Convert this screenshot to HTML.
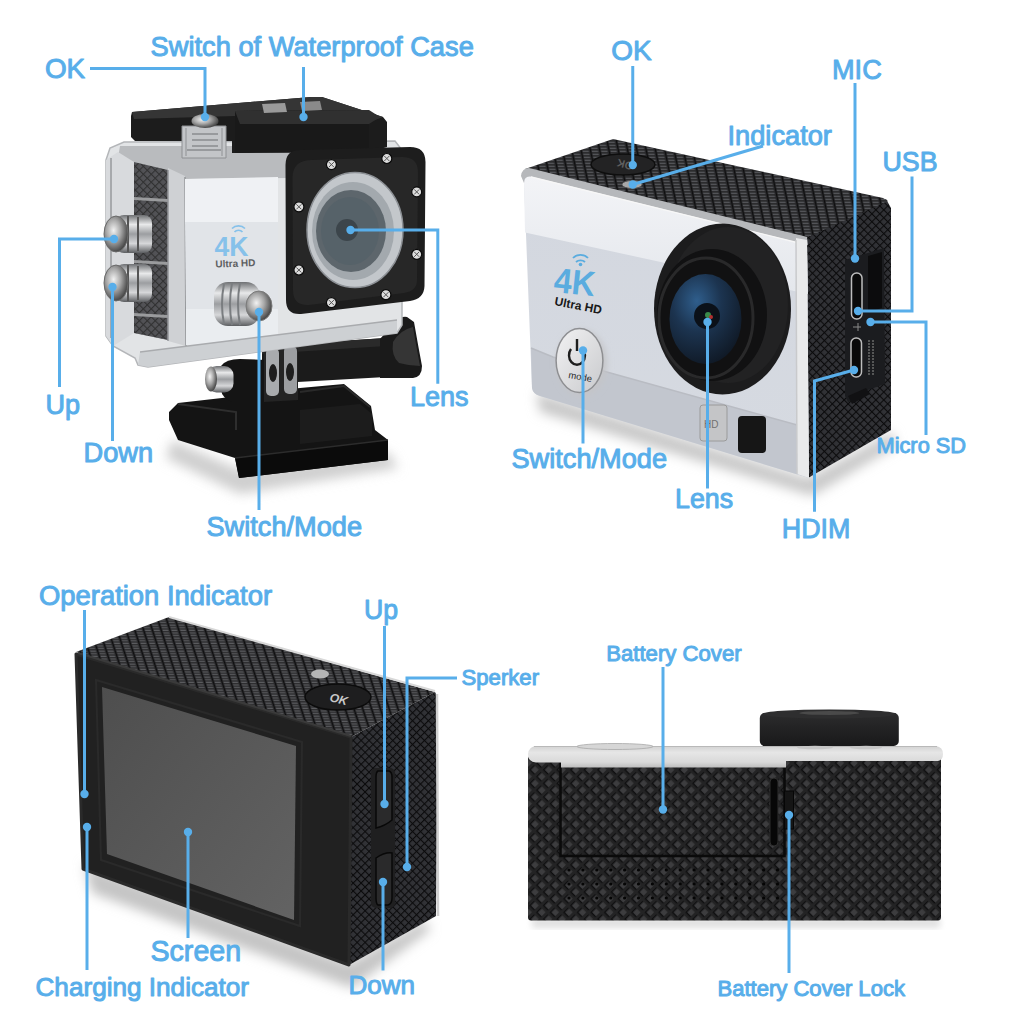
<!DOCTYPE html>
<html><head><meta charset="utf-8"><style>
html,body{margin:0;padding:0;background:#fff;width:1024px;height:1024px;overflow:hidden}
svg{display:block}
</style></head><body>
<svg width="1024" height="1024" viewBox="0 0 1024 1024">
<rect width="1024" height="1024" fill="#fff"/>

<defs>
 <pattern id="rib" width="9.3" height="3" patternUnits="userSpaceOnUse" patternTransform="skewX(12)">
  <rect width="9.3" height="3" fill="#252527"/>
  <rect x="1.6" y="0.6" width="6.4" height="1.5" fill="#57585c"/>
  <rect x="0" y="0" width="1.2" height="3" fill="#0e0e0f"/>
 </pattern>
 <pattern id="rib2" width="8.8" height="2.6" patternUnits="userSpaceOnUse" patternTransform="skewX(18)">
  <rect width="8.8" height="2.6" fill="#272729"/>
  <rect x="1.6" y="0.5" width="6" height="1.3" fill="#5a5b5e"/>
  <rect x="0" y="0" width="1.2" height="2.6" fill="#0e0e0f"/>
 </pattern>
 <pattern id="dia" width="5.6" height="5.6" patternUnits="userSpaceOnUse" patternTransform="rotate(45)">
  <rect width="5.6" height="5.6" fill="#0b0b0c"/>
  <rect x="1.1" y="0" width="4.5" height="4.5" fill="#313236"/>
 </pattern>
 <pattern id="dia2" width="9.6" height="9.6" patternUnits="userSpaceOnUse" patternTransform="translate(528,756) rotate(45)">
  <rect width="9.6" height="9.6" fill="#232324"/>
  <rect x="1.0" y="2.2" width="1.5" height="6.8" fill="#0e0e0f"/>
  <rect x="2.2" y="7.5" width="5.8" height="1.5" fill="#0e0e0f"/>
  <rect x="2.4" y="2.2" width="5.3" height="5.3" fill="#3d3d3f"/>
 </pattern>
 <linearGradient id="silverTR" x1="0" y1="0" x2="0" y2="1">
  <stop offset="0" stop-color="#f4f5f6"/>
  <stop offset="0.25" stop-color="#eeeff0"/>
  <stop offset="0.27" stop-color="#dcdddf"/>
  <stop offset="1" stop-color="#d2d3d5"/>
 </linearGradient>
 <linearGradient id="silverUp" x1="0" y1="0" x2="0" y2="1">
  <stop offset="0" stop-color="#f3f4f7"/>
  <stop offset="1" stop-color="#e4e7ec"/>
 </linearGradient>
 <linearGradient id="silverMid" x1="0" y1="0" x2="0" y2="1">
  <stop offset="0" stop-color="#d3d7df"/>
  <stop offset="1" stop-color="#d6dae1"/>
 </linearGradient>
 <linearGradient id="btnTR" x1="0" y1="0" x2="1" y2="1">
  <stop offset="0" stop-color="#f2f2f3"/>
  <stop offset="1" stop-color="#c9cacd"/>
 </linearGradient>
 <radialGradient id="glass" cx="0.38" cy="0.3" r="0.75">
  <stop offset="0" stop-color="#2f5e8c"/>
  <stop offset="0.45" stop-color="#1c3450"/>
  <stop offset="1" stop-color="#0f1824"/>
 </radialGradient>
 <linearGradient id="screen" x1="0" y1="0" x2="1" y2="1">
  <stop offset="0" stop-color="#4e4e4e"/>
  <stop offset="1" stop-color="#636363"/>
 </linearGradient>
 <radialGradient id="chrome" cx="0.4" cy="0.4" r="0.6">
  <stop offset="0" stop-color="#f2f2f2"/>
  <stop offset="0.5" stop-color="#a8a8a8"/>
  <stop offset="1" stop-color="#4a4a4a"/>
 </radialGradient>
 <linearGradient id="chromeV" x1="0" y1="0" x2="0" y2="1">
  <stop offset="0" stop-color="#6e7073"/>
  <stop offset="0.25" stop-color="#e8e9ea"/>
  <stop offset="0.5" stop-color="#9c9ea1"/>
  <stop offset="0.75" stop-color="#d6d7d9"/>
  <stop offset="1" stop-color="#5c5e61"/>
 </linearGradient>
 <linearGradient id="lensCyl" x1="0" y1="0" x2="0" y2="1">
  <stop offset="0" stop-color="#2c2c2d"/>
  <stop offset="0.5" stop-color="#222223"/>
  <stop offset="1" stop-color="#19191a"/>
 </linearGradient>
 <linearGradient id="silverStrip" x1="0" y1="0" x2="0" y2="1">
  <stop offset="0" stop-color="#d2d2d2"/>
  <stop offset="0.3" stop-color="#e6e6e6"/>
  <stop offset="0.75" stop-color="#d9d9d9"/>
  <stop offset="1" stop-color="#bdbdbd"/>
 </linearGradient>
 <filter id="blur6" x="-20%" y="-20%" width="140%" height="140%"><feGaussianBlur stdDeviation="6"/></filter>
 <filter id="blur3" x="-20%" y="-20%" width="140%" height="140%"><feGaussianBlur stdDeviation="3"/></filter>
</defs>
<polygon points="536,392 808,478 892,432 896,446 812,496 540,412" fill="#c8c8c8" filter="url(#blur6)"/>
<polygon points="807,237 886,199 891,208 891,430 808,478" fill="url(#dia)" />
<polygon points="525,169 613,139 883,198 888,201 807,237.5" fill="url(#rib)" />
<path d="M524,183 Q524,175.5 531,176.5 L807,244.5 L809,478 L540,396 Q533,394 532,388 Z" fill="url(#silverMid)"/>
<path d="M524,183 Q524,175.5 531,176.5 L807,244.5 L808,294 L525,232.5 Z" fill="url(#silverUp)"/>
<path d="M521,176 Q522,168 529,168 L807,237 L808,245 L531,176.5 Q524,175.5 524,183 Z" fill="#b6b8bb"/>
<path d="M531,177 L807,245" stroke="#f7f7f7" stroke-width="1.3"/>
<path d="M531,348 L553,357 L808,428 L809,478 L540,396 Q533,394 532,388 Z" fill="#c2c6ce"/>
<path d="M531,348 L553,357 L808,428" stroke="#b9bcc3" stroke-width="1.5" fill="none"/>
<polygon points="796,238 807,240 809,478 797,474" fill="#e9eaeb" />
<path d="M796,240 L797,474" stroke="#c9cacc" stroke-width="1.5"/>
<ellipse cx="722.5" cy="309" rx="68.5" ry="85.5" fill="#1c1c1d"/>
<ellipse cx="728" cy="305" rx="60" ry="78" fill="#222223"/>
<ellipse cx="712" cy="315" rx="55" ry="66" fill="#111112"/>
<ellipse cx="706" cy="318" rx="47" ry="60" fill="none" stroke="#29292a" stroke-width="3"/>
<ellipse cx="705.5" cy="319" rx="36" ry="45" fill="url(#glass)"/>
<circle cx="707" cy="316" r="13" fill="#0b1119"/>
<circle cx="708" cy="315" r="3" fill="#3a8a4a"/><circle cx="711" cy="317" r="2" fill="#b03030"/>
<ellipse cx="582" cy="363" rx="25" ry="33" fill="#c4c5c8" filter="url(#blur3)"/>
<ellipse cx="579.5" cy="360.5" rx="23.4" ry="32" fill="url(#btnTR)" stroke="#8e8f92" stroke-width="1.5"/>
<path d="M571,349 a8,9.5 0 1,0 12,0" fill="none" stroke="#1e1e1e" stroke-width="2.4"/><path d="M577,339 v12" stroke="#1e1e1e" stroke-width="2.4"/>
<text x="568" y="378" font-family="Liberation Sans" font-size="9.5" fill="#2a2a2a" transform="rotate(10 568 378)">mode</text>
<path d="M576,262 a6,5 0 0,1 9,0 M573,258 a9.5,8 0 0,1 15,0" stroke="#5aacdf" stroke-width="1.8" fill="none"/><circle cx="580.5" cy="264.5" r="1.8" fill="#5aacdf"/>
<text x="0" y="0" font-family="Liberation Sans" font-weight="bold" font-size="35" fill="#5aacdf" transform="translate(553,292) rotate(6) scale(0.92,1)">4K</text>
<text x="554" y="305" font-family="Liberation Sans" font-weight="bold" font-size="12" fill="#1a1a1a" transform="rotate(11 554 305)">Ultra HD</text>
<ellipse cx="623" cy="164.5" rx="32" ry="10.5" fill="#232324" stroke="#0e0e0e" stroke-width="1.5"/>
<text x="0" y="0" font-family="Liberation Sans" font-weight="bold" font-size="11" fill="#5e5e5e" transform="translate(634,163) rotate(195)">OK</text>
<ellipse cx="632" cy="184.5" rx="10" ry="4" fill="#a8a8a8" stroke="#555" stroke-width="1"/>
<rect x="700" y="405" width="27" height="36" rx="3" fill="#c4c5c7" stroke="#9a9a9a"/>
<text x="704" y="428" font-family="Liberation Sans" font-size="10" fill="#707070">HD</text>
<rect x="738" y="416" width="28" height="37" rx="4" fill="#161616"/>
<polygon points="845,260 884,248 885,384 862,392 858,400 848,402 845,396" fill="#1b1c1f" />
<polygon points="868,256 882,252 882,308 868,312" fill="#0c0c0d" />
<rect x="851.5" y="273" width="10.5" height="46" rx="5" fill="#0a0a0a" stroke="#bdbdbd" stroke-width="1.5"/>
<rect x="851" y="338" width="10.5" height="39" rx="5" fill="#0a0a0a" stroke="#bdbdbd" stroke-width="1.5"/>
<path d="M853,327 h8 M858,323 v8" stroke="#8a8a8a" stroke-width="1"/>
<path d="M869,340 v36 M873,340 v36" stroke="#6a6a6a" stroke-width="1.5" stroke-dasharray="2,1"/>
<polygon points="848,396 866,388 870,394 852,404" fill="#111113" /><polygon points="84,864 349,963 425,920 430,930 352,988 92,893" fill="#c4c4c4" filter="url(#blur6)"/>
<polygon points="76,652 169,617 435,692 351,737" fill="url(#rib2)" />
<path d="M169,617 L435,691" stroke="#d8d8d8" stroke-width="2"/>
<polygon points="351,737 435,692 438,698 436,916 349,965" fill="url(#dia)" />
<path d="M437,694 L438,916" stroke="#d0d0d0" stroke-width="2.5"/>
<polygon points="76,654 351,737 349,965 83,869" fill="#212121" stroke="#2a2a2a" stroke-width="3" stroke-linejoin="round"/>
<polygon points="96,680 302,742 300,926 101,860" fill="none" stroke="#2a2a2a" stroke-width="2"/>
<path d="M78,653 L351,736" stroke="#3a3a3a" stroke-width="2"/>
<polygon points="102,687 296,746 294,920 107,854" fill="url(#screen)" />
<ellipse cx="338" cy="697" rx="33" ry="13" fill="#1e1e1f" stroke="#0b0b0b" stroke-width="1.5"/>
<text x="0" y="0" font-family="Liberation Sans" font-weight="bold" font-style="italic" font-size="12" fill="#c8c8c8" transform="translate(329,701) rotate(14)">OK</text>
<ellipse cx="320" cy="674" rx="9" ry="4.5" fill="#b5b5b5"/>
<rect x="371" y="768" width="24" height="140" rx="5" fill="#1f1f20"/>
<path d="M378,771 L389,771 Q392,772 392,777 L392,820 Q385,826 376,828 L376,777 Q376,772 378,771 Z" fill="#2a2a2b" stroke="#080808" stroke-width="1.5"/>
<path d="M376,858 Q385,852 392,853 L392,898 Q392,904 388,905 L378,905 Q376,904 376,898 Z" fill="#2a2a2b" stroke="#080808" stroke-width="1.5"/><rect x="532" y="918" width="408" height="10" fill="#e0e0e0" filter="url(#blur3)"/>
<rect x="528" y="756" width="413" height="164.5" rx="3" fill="url(#dia2)"/>
<rect x="560.5" y="764" width="224" height="92" fill="url(#dia2)" stroke="#0a0a0a" stroke-width="2.5"/>
<rect x="770" y="778" width="8" height="68" rx="4" fill="#070707" stroke="#2e2e2e" stroke-width="1"/>
<rect x="784.5" y="791" width="9" height="38" fill="#151515" stroke="#060606" stroke-width="1"/>
<circle cx="569.0" cy="870" r="1.6" fill="#050505"/>
<circle cx="582.9" cy="870" r="1.6" fill="#050505"/>
<circle cx="596.8" cy="870" r="1.6" fill="#050505"/>
<circle cx="610.7" cy="870" r="1.6" fill="#050505"/>
<circle cx="624.6" cy="870" r="1.6" fill="#050505"/>
<circle cx="638.5" cy="870" r="1.6" fill="#050505"/>
<circle cx="652.4" cy="870" r="1.6" fill="#050505"/>
<circle cx="666.3" cy="870" r="1.6" fill="#050505"/>
<circle cx="680.2" cy="870" r="1.6" fill="#050505"/>
<circle cx="694.1" cy="870" r="1.6" fill="#050505"/>
<circle cx="708.0" cy="870" r="1.6" fill="#050505"/>
<circle cx="721.9" cy="870" r="1.6" fill="#050505"/>
<circle cx="735.8" cy="870" r="1.6" fill="#050505"/>
<circle cx="749.7" cy="870" r="1.6" fill="#050505"/>
<circle cx="763.6" cy="870" r="1.6" fill="#050505"/>
<circle cx="777.5" cy="870" r="1.6" fill="#050505"/>
<circle cx="569.0" cy="884" r="1.6" fill="#050505"/>
<circle cx="582.9" cy="884" r="1.6" fill="#050505"/>
<circle cx="596.8" cy="884" r="1.6" fill="#050505"/>
<circle cx="610.7" cy="884" r="1.6" fill="#050505"/>
<circle cx="624.6" cy="884" r="1.6" fill="#050505"/>
<circle cx="638.5" cy="884" r="1.6" fill="#050505"/>
<circle cx="652.4" cy="884" r="1.6" fill="#050505"/>
<circle cx="666.3" cy="884" r="1.6" fill="#050505"/>
<circle cx="680.2" cy="884" r="1.6" fill="#050505"/>
<circle cx="694.1" cy="884" r="1.6" fill="#050505"/>
<circle cx="708.0" cy="884" r="1.6" fill="#050505"/>
<circle cx="721.9" cy="884" r="1.6" fill="#050505"/>
<circle cx="735.8" cy="884" r="1.6" fill="#050505"/>
<circle cx="749.7" cy="884" r="1.6" fill="#050505"/>
<circle cx="763.6" cy="884" r="1.6" fill="#050505"/>
<circle cx="777.5" cy="884" r="1.6" fill="#050505"/>
<circle cx="569.0" cy="898" r="1.6" fill="#050505"/>
<circle cx="582.9" cy="898" r="1.6" fill="#050505"/>
<circle cx="596.8" cy="898" r="1.6" fill="#050505"/>
<circle cx="610.7" cy="898" r="1.6" fill="#050505"/>
<circle cx="624.6" cy="898" r="1.6" fill="#050505"/>
<circle cx="638.5" cy="898" r="1.6" fill="#050505"/>
<circle cx="652.4" cy="898" r="1.6" fill="#050505"/>
<circle cx="666.3" cy="898" r="1.6" fill="#050505"/>
<circle cx="680.2" cy="898" r="1.6" fill="#050505"/>
<circle cx="694.1" cy="898" r="1.6" fill="#050505"/>
<circle cx="708.0" cy="898" r="1.6" fill="#050505"/>
<circle cx="721.9" cy="898" r="1.6" fill="#050505"/>
<circle cx="735.8" cy="898" r="1.6" fill="#050505"/>
<circle cx="749.7" cy="898" r="1.6" fill="#050505"/>
<circle cx="763.6" cy="898" r="1.6" fill="#050505"/>
<circle cx="777.5" cy="898" r="1.6" fill="#050505"/>
<rect x="759.8" y="713" width="139" height="33" rx="5" fill="url(#lensCyl)"/>
<ellipse cx="829.3" cy="714" rx="67" ry="4.5" fill="#2e2e2f"/>
<ellipse cx="829.3" cy="713" rx="30" ry="2" fill="#4a4a4a"/>
<path d="M537,746 L936,746 Q943,747 943,754 Q943,760 938,761 L786,761 L786,767.5 L561,767.5 L561,762.5 L536,762.5 Q528,762 528,754 Q529,746 537,746 Z" fill="url(#silverStrip)"/>
<path d="M534,746.5 L937,746.5" stroke="#b9b9b9" stroke-width="1"/>
<ellipse cx="615" cy="746.5" rx="38" ry="3" fill="#d6d6d6" stroke="#a8a8a8" stroke-width="0.8"/>
<ellipse cx="815" cy="747.5" rx="18" ry="1.8" fill="#c6c6c6"/><ellipse cx="866" cy="747.5" rx="16" ry="1.8" fill="#c6c6c6"/><polygon points="172,440 240,470 388,452 398,468 240,494 166,458" fill="#cfcfcf" filter="url(#blur6)"/>
<polygon points="262,346 386,338 386,377 262,384" fill="#1b1b1b" />
<polygon points="262,346 386,338 386,346 262,354" fill="#2a2a2a" />
<path d="M380,339 L396,321 Q401,316 407,317 L414,322 Q418,345 422,366 Q422,377 413,378 L380,378 Z" fill="#1a1a1a"/>
<path d="M413,327 Q400,330 393,342 Q391,356 399,363 Q410,366 420,366 Q416,345 413,327 Z" fill="#353535"/>
<polygon points="169,412 178,403 222,398 262,392 300,388 344,384 371,406 375,430 388,440 388,460 239,478 235,458 178,440 169,420" fill="#141414" />
<polygon points="235,458 388,440 388,460 239,478" fill="#0b0b0b" />
<path d="M235,458 L388,440" stroke="#2c2c2c" stroke-width="1.5"/>
<path d="M178,404 L236,412 L236,430" stroke="#2e2e2e" stroke-width="2" fill="none"/>
<path d="M300,392 L344,386 L370,407" stroke="#2a2a2a" stroke-width="2" fill="none"/>
<polygon points="300,410 360,404 372,414 372,436 300,444" fill="#1c1c1c" />
<path d="M221,366 Q226,359 240,359 L266,360 L266,402 L232,402 Q222,398 221,390 Z" fill="#141414"/>
<rect x="207.5" y="366" width="26" height="26.5" rx="9" fill="url(#chromeV)"/>
<ellipse cx="211" cy="379" rx="6" ry="12.5" fill="url(#chrome)"/>
<polygon points="264,346 298,342 298,400 264,402" fill="#242424" />
<rect x="266" y="348" width="13" height="48" rx="5" fill="#a9abae"/>
<rect x="284" y="346" width="13" height="48" rx="5" fill="#9c9ea1"/>
<ellipse cx="273" cy="373" rx="4" ry="9" fill="#1e1e1e"/><ellipse cx="290" cy="372" rx="4" ry="9" fill="#1e1e1e"/>
<polygon points="106,160 110,148 124,142 395,141 402,150 402,325 397,333 148,367 138,365 135,358 113,346 106,336" fill="#e2e4e6" stroke="#b4b6b9" stroke-width="1.5"/>
<polygon points="120,146 290,146 290,178 186,179 168,170 134,162 118,158" fill="#b9bbbe" />
<polygon points="134,162 168,170 168,340 134,333" fill="url(#dia)" />
<polygon points="134,162 168,170 168,340 134,333" fill="#ffffff" fill-opacity="0.16"/>
<polygon points="134,197 168,199 168,202 134,200" fill="#9a9b9d" />
<polygon points="134,260 168,262 168,265 134,263" fill="#9a9b9d" />
<polygon points="134,313 168,315 168,318 134,316" fill="#9a9b9d" />
<polygon points="106,160 118,152 134,162 134,333 113,346 106,336" fill="#d8dadd" />
<path d="M111,158 L111,338" stroke="#a7a9ac" stroke-width="2"/>
<polygon points="168,168 185,176 186,346 168,341" fill="#cfd1d4" />
<path d="M168,170 L168,341 M185,177 L186,346" stroke="#95979a" stroke-width="1.5"/>
<polygon points="185,179 278,177 278,222 185,222" fill="#eff1f4" />
<polygon points="185,222 278,222 278,309 186,309" fill="#e1e4e8" />
<polygon points="186,309 278,309 278,343 186,345" fill="#eaedf0" />
<polygon points="140,352 397,320 397,333 148,367 138,365" fill="#cdd0d3" />
<path d="M140,352 L397,320" stroke="#a9abae" stroke-width="1.5"/>
<polygon points="132,112 311,97 322,97 383,117 387,122 387,147 370,152 232,153 232,141 135,141 131,137 131,116" fill="#1c1c1c" />
<polygon points="132,112 311,97 322,97 383,117 369,122 235,116 134,119" fill="#353535" />
<polygon points="235,111 369,110 369,152 235,153" fill="#191919" />
<polygon points="235,111 369,110 380,117 369,124 240,124" fill="#303030" />
<polygon points="262,104 285,103 287,112 264,113" fill="#9a9a9a" />
<polygon points="300,102 320,101 322,110 302,111" fill="#8a8a8a" />
<polygon points="182,126 226,126 226,158 182,158" fill="#c3c5c8" stroke="#8e9093" stroke-width="1"/>
<path d="M186,150 L222,150 M192,134 L218,134 M192,140 L218,140 M192,146 L218,146" stroke="#8a8c8f" stroke-width="1.6"/>
<path d="M186,128 L186,156 M222,128 L222,156" stroke="#a9abae" stroke-width="2"/>
<ellipse cx="205" cy="121" rx="13.5" ry="7" fill="url(#chrome)"/>
<path d="M300,150 L410,147 Q425.5,147 425.5,162 L424.5,286 Q424,299 410,301 L301,314 Q286,315 286,300 L285.5,165 Q285.5,150 300,150 Z" fill="#1d1d1d"/>
<path d="M312,160 L402,157 Q418,157 418,172 L417,280 Q417,291 404,293 L309,305 Q293,306 293,290 L292.5,178 Q292.5,160 312,160 Z" fill="#272727"/>
<ellipse cx="355" cy="230" rx="48" ry="57.6" fill="#c3c7cb" stroke="#8c9095" stroke-width="1.5"/>
<ellipse cx="353" cy="231" rx="41" ry="49" fill="#a3a9ae"/>
<ellipse cx="351" cy="231" rx="35" ry="41" fill="#5d666c"/>
<ellipse cx="350" cy="231" rx="29" ry="34" fill="#566269"/>
<circle cx="347" cy="230" r="11" fill="#3c454b"/>
<circle cx="331.4" cy="164.6" r="5" fill="#dcdcdc" stroke="#0a0a0a" stroke-width="1.2"/>
<path d="M328.9,167.1 L333.9,162.1 M328.9,162.1 L333.9,167.1" stroke="#555" stroke-width="1"/>
<circle cx="386.8" cy="158.5" r="5" fill="#dcdcdc" stroke="#0a0a0a" stroke-width="1.2"/>
<path d="M384.3,161.0 L389.3,156.0 M384.3,156.0 L389.3,161.0" stroke="#555" stroke-width="1"/>
<circle cx="416.7" cy="191.9" r="5" fill="#dcdcdc" stroke="#0a0a0a" stroke-width="1.2"/>
<path d="M414.2,194.4 L419.2,189.4 M414.2,189.4 L419.2,194.4" stroke="#555" stroke-width="1"/>
<circle cx="298.9" cy="206.8" r="5" fill="#dcdcdc" stroke="#0a0a0a" stroke-width="1.2"/>
<path d="M296.4,209.3 L301.4,204.3 M296.4,204.3 L301.4,209.3" stroke="#555" stroke-width="1"/>
<circle cx="416.7" cy="254.3" r="5" fill="#dcdcdc" stroke="#0a0a0a" stroke-width="1.2"/>
<path d="M414.2,256.8 L419.2,251.8 M414.2,251.8 L419.2,256.8" stroke="#555" stroke-width="1"/>
<circle cx="298.9" cy="270" r="5" fill="#dcdcdc" stroke="#0a0a0a" stroke-width="1.2"/>
<path d="M296.4,272.5 L301.4,267.5 M296.4,267.5 L301.4,272.5" stroke="#555" stroke-width="1"/>
<circle cx="385.9" cy="294.7" r="5" fill="#dcdcdc" stroke="#0a0a0a" stroke-width="1.2"/>
<path d="M383.4,297.2 L388.4,292.2 M383.4,292.2 L388.4,297.2" stroke="#555" stroke-width="1"/>
<circle cx="331.4" cy="302.6" r="5" fill="#dcdcdc" stroke="#0a0a0a" stroke-width="1.2"/>
<path d="M328.9,305.1 L333.9,300.1 M328.9,300.1 L333.9,305.1" stroke="#555" stroke-width="1"/>
<rect x="116" y="215" width="36" height="38" rx="8" fill="url(#chromeV)"/>
<path d="M128,216 L128,252 M138,217 L138,251" stroke="#555" stroke-width="2"/>
<ellipse cx="116" cy="234" rx="12" ry="18" fill="url(#chrome)" stroke="#6a6a6a" stroke-width="1"/>
<rect x="116" y="264" width="36" height="38" rx="8" fill="url(#chromeV)"/>
<path d="M128,265 L128,301 M138,266 L138,300" stroke="#555" stroke-width="2"/>
<ellipse cx="116" cy="283" rx="12" ry="18" fill="url(#chrome)" stroke="#6a6a6a" stroke-width="1"/>
<rect x="214" y="282" width="46" height="44" rx="14" fill="url(#chromeV)"/>
<path d="M224,284 Q220,304 224,324 M232,283 Q228,304 232,325 M240,283 Q236,304 240,325" stroke="#7a7d80" stroke-width="2" fill="none"/>
<ellipse cx="259" cy="306" rx="13" ry="15" fill="url(#chrome)" stroke="#7a7a7a" stroke-width="1"/>
<text x="0" y="0" font-family="Liberation Sans" font-weight="bold" font-size="28" fill="#86c1ea" transform="translate(214.5,256) scale(0.95,1)">4K</text>
<path d="M234.5,232 a5,4.5 0 0,1 8,0 M232,228.5 a8.5,7.5 0 0,1 13,0" stroke="#86c1ea" stroke-width="1.6" fill="none"/>
<text x="0" y="0" font-family="Liberation Sans" font-weight="bold" font-size="10" fill="#5e6062" transform="translate(215.5,267.5) rotate(-2)">Ultra HD</text>
<g fill="#58aeea" stroke="#58aeea" stroke-width="1.0" stroke-linejoin="round" font-family="Liberation Sans, sans-serif">
<text transform="translate(44.90,78.33) scale(0.9925,1)" font-size="28.1">OK</text>
<text transform="translate(150.50,55.76) scale(0.9748,1)" font-size="28.0">Switch of Waterproof Case</text>
<text transform="translate(45.50,414.04) scale(0.9533,1)" font-size="28.4">Up</text>
<text transform="translate(83.50,461.90) scale(0.9652,1)" font-size="28.2">Down</text>
<text transform="translate(410.00,406.06) scale(0.9758,1)" font-size="27.7">Lens</text>
<text transform="translate(206.50,535.99) scale(0.9847,1)" font-size="27.6">Switch/Mode</text>
<text transform="translate(611.25,60.11) scale(0.9810,1)" font-size="28.5">OK</text>
<text transform="translate(727.50,145.42) scale(0.9899,1)" font-size="27.5">Indicator</text>
<text transform="translate(832.00,79.11) scale(0.9533,1)" font-size="28.5">MIC</text>
<text transform="translate(882.50,170.90) scale(0.9503,1)" font-size="28.2">USB</text>
<text transform="translate(876.50,453.05) scale(0.9644,1)" font-size="22.6">Micro SD</text>
<text transform="translate(511.50,468.13) scale(0.9777,1)" font-size="27.8">Switch/Mode</text>
<text transform="translate(675.00,508.26) scale(0.9571,1)" font-size="28">Lens</text>
<text transform="translate(781.75,538.11) scale(0.9421,1)" font-size="28.5">HDIM</text>
<text transform="translate(39.00,604.63) scale(0.9859,1)" font-size="27.8">Operation Indicator</text>
<text transform="translate(364.00,619.40) scale(0.9462,1)" font-size="28.2">Up</text>
<text transform="translate(461.50,685.20) scale(1.0027,1)" font-size="22.1">Sperker</text>
<text transform="translate(150.50,961.30) scale(0.9694,1)" font-size="29.5">Screen</text>
<text transform="translate(35.50,995.66) scale(0.9902,1)" font-size="26.4">Charging Indicator</text>
<text transform="translate(348.50,993.73) scale(0.9829,1)" font-size="26.5">Down</text>
<text transform="translate(606.25,660.55) scale(0.9801,1)" font-size="22.6">Battery Cover</text>
<text transform="translate(717.50,996.20) scale(0.9981,1)" font-size="22.1">Battery Cover Lock</text>
</g>
<g stroke="#58aeea" stroke-width="3" fill="none">
<path d="M90,68.5 L205,68.5 L205,117"/>
<circle cx="205" cy="117" r="4.2" stroke="none" fill="#58aeea"/>
<path d="M303.5,67 L303.5,117"/>
<circle cx="303.5" cy="117" r="4.2" stroke="none" fill="#58aeea"/>
<path d="M59.5,387 L59.5,239 L114,239"/>
<circle cx="114" cy="239" r="4.2" stroke="none" fill="#58aeea"/>
<path d="M112.5,441 L112.5,287"/>
<circle cx="112.5" cy="287" r="4.2" stroke="none" fill="#58aeea"/>
<path d="M437.8,383.8 L437.8,230 L350.5,230"/>
<circle cx="350.5" cy="230" r="4.2" stroke="none" fill="#58aeea"/>
<path d="M259,510 L259,312"/>
<circle cx="259" cy="312" r="4.2" stroke="none" fill="#58aeea"/>
<path d="M632.75,66 L632.75,165"/>
<circle cx="632.75" cy="165" r="4.2" stroke="none" fill="#58aeea"/>
<path d="M763,146 L632.75,184.5"/>
<circle cx="632.75" cy="184.5" r="4.2" stroke="none" fill="#58aeea"/>
<path d="M855,83 L855,258.5"/>
<circle cx="855" cy="258.5" r="4.2" stroke="none" fill="#58aeea"/>
<path d="M912,176.5 L912,311 L858,311"/>
<circle cx="858" cy="311" r="4.2" stroke="none" fill="#58aeea"/>
<path d="M926,435 L926,322 L870.5,322"/>
<circle cx="870.5" cy="322" r="4.2" stroke="none" fill="#58aeea"/>
<path d="M583,443.5 L583,350.5"/>
<circle cx="583" cy="350.5" r="4.2" stroke="none" fill="#58aeea"/>
<path d="M707.5,488.5 L707.5,322"/>
<circle cx="707.5" cy="322" r="4.2" stroke="none" fill="#58aeea"/>
<path d="M814.5,511.75 L814.5,381 L854,370"/>
<circle cx="854" cy="370" r="4.2" stroke="none" fill="#58aeea"/>
<path d="M84.5,610 L84.5,794"/>
<circle cx="84.5" cy="794" r="4.2" stroke="none" fill="#58aeea"/>
<path d="M87,970 L87,827"/>
<circle cx="87" cy="827" r="4.2" stroke="none" fill="#58aeea"/>
<path d="M188,938 L188,832"/>
<circle cx="188" cy="832" r="4.2" stroke="none" fill="#58aeea"/>
<path d="M384.5,626 L384.5,804"/>
<circle cx="384.5" cy="804" r="4.2" stroke="none" fill="#58aeea"/>
<path d="M457,678 L407,678 L407,867"/>
<circle cx="407" cy="867" r="4.2" stroke="none" fill="#58aeea"/>
<path d="M383,970.5 L383,882"/>
<circle cx="383" cy="882" r="4.2" stroke="none" fill="#58aeea"/>
<path d="M663,667 L663,809.5"/>
<circle cx="663" cy="809.5" r="4.2" stroke="none" fill="#58aeea"/>
<path d="M789,973 L789,815"/>
<circle cx="789" cy="815" r="4.2" stroke="none" fill="#58aeea"/>
</g>
</svg>
</body></html>
